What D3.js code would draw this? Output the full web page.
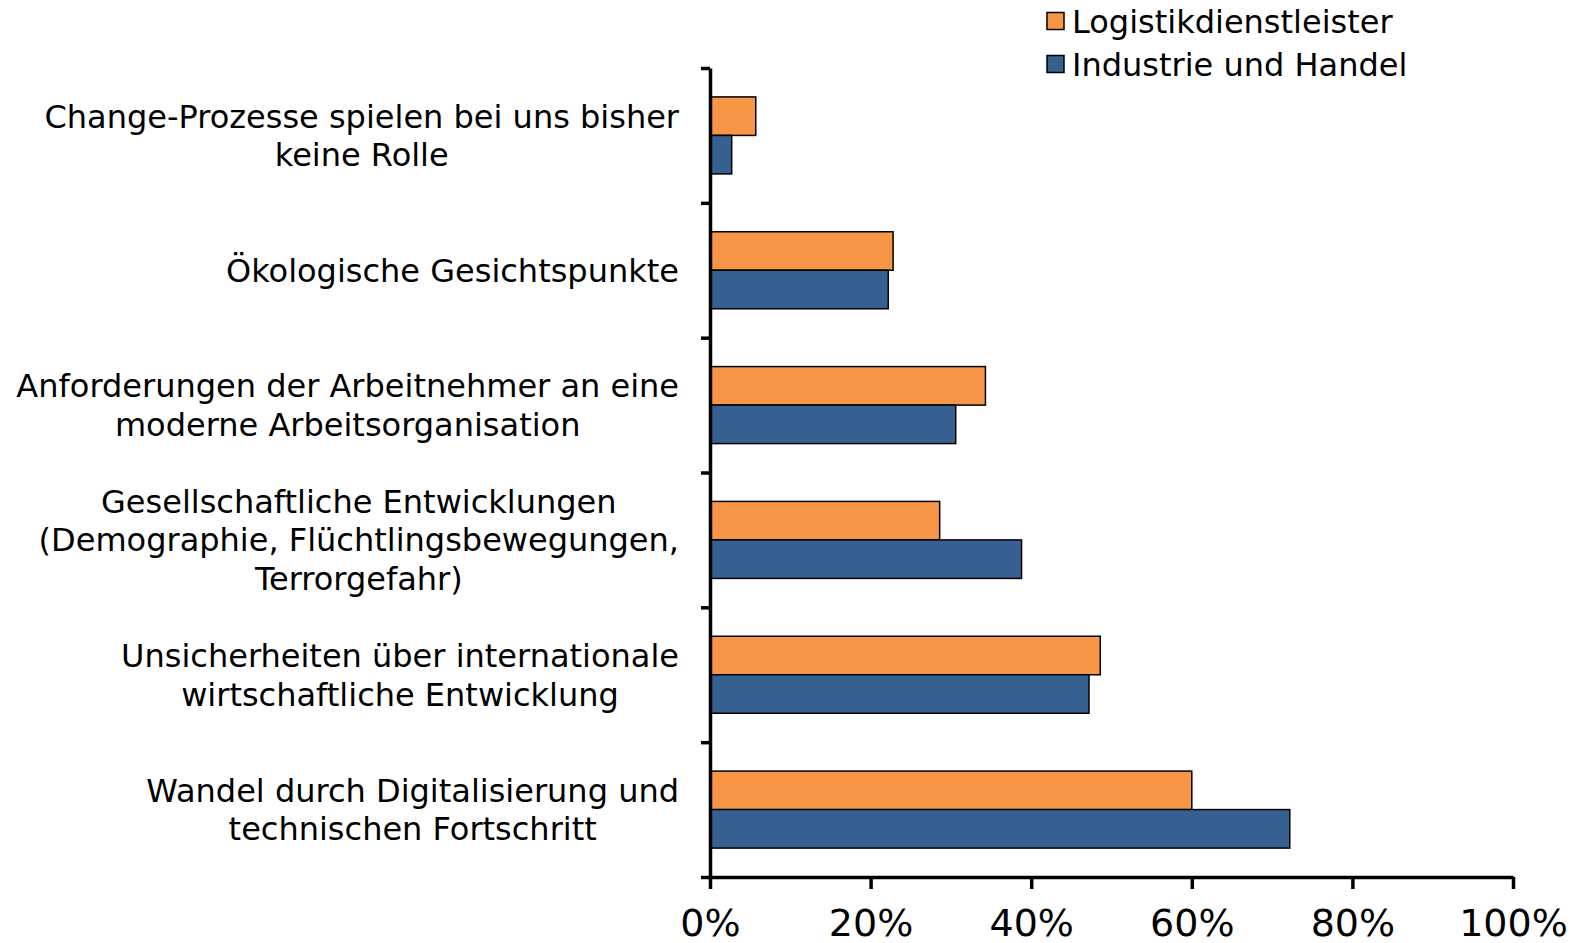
<!DOCTYPE html>
<html>
<head>
<meta charset="utf-8">
<script src="https://cdn.jsdelivr.net/npm/d3@7"></script>
<style>
  body { margin: 0; background: #fff; }
  svg { display: block; }
  .lbl { font-family: "DejaVu Sans", sans-serif; fill: #000; }
</style>
</head>
<body>
<div id="chart"></div>
<script>
// categories, top to bottom (each label split into its lines)
let categories = [
    ["Change-Prozesse spielen bei uns bisher", "keine Rolle"],
    ["Ökologische Gesichtspunkte"],
    ["Anforderungen der Arbeitnehmer an eine", "moderne Arbeitsorganisation"],
    ["Gesellschaftliche Entwicklungen", "(Demographie, Flüchtlingsbewegungen,", "Terrorgefahr)"],
    ["Unsicherheiten über internationale", "wirtschaftliche Entwicklung"],
    ["Wandel durch Digitalisierung und", "technischen Fortschritt"]
];
let seriesNames = ["Logistikdienstleister", "Industrie und Handel"];
let logistik = [5.7, 22.8, 34.3, 28.6, 48.6, 60.0];
let industrie = [2.7, 22.2, 30.6, 38.8, 47.2, 72.2];
let xTicks = [0, 20, 40, 60, 80, 100];
let colors = ["#F79646", "#366092"];

// size of plot
let width = 1574, height = 943;
let plot = {left: 710, right: 1513, top: 68, bottom: 877};

let svg = d3.select("#chart").append("svg")
    .attr("width", width)
    .attr("height", height);

let x = d3.scaleLinear()
    .domain([0, 100])
    .range([plot.left, plot.right]);

let y0 = d3.scaleBand()
    .domain(d3.range(categories.length))
    .range([plot.top, plot.bottom]);

let pad = (y0.bandwidth() - 77) / 2;
let y1 = d3.scaleBand()
    .domain(seriesNames)
    .range([pad, y0.bandwidth() - pad]);

// bars
let values = [logistik, industrie];
let groups = svg.selectAll(".group")
    .data(d3.range(categories.length))
    .enter()
    .append("g")
    .attr("class", "group")
    .attr("transform", d => "translate(0," + y0(d) + ")");

groups.selectAll("rect")
    .data(i => seriesNames.map((s, k) => ({s: s, k: k, v: values[k][i]})))
    .enter()
    .append("rect")
    .attr("x", x(0))
    .attr("y", d => y1(d.s))
    .attr("width", d => x(d.v) - x(0))
    .attr("height", y1.bandwidth())
    .style("fill", d => colors[d.k])
    .style("stroke", "#000")
    .style("stroke-width", 1.5);

// category labels: centred block, widest line ends at labelRight
let lineH = 38.5, labelRight = 679;
groups.each(function(i) {
    let lines = categories[i];
    let cy = y0.bandwidth() / 2;
    let t = d3.select(this).append("text")
        .attr("class", "lbl")
        .attr("text-anchor", "middle")
        .style("font-size", "32px");
    let spans = lines.map(function(line, j) {
        return t.append("tspan")
            .attr("y", cy + (j - (lines.length - 1) / 2) * lineH)
            .attr("dy", "0.36em")
            .text(line);
    });
    let maxW = d3.max(spans, s => s.node().getComputedTextLength());
    spans.forEach(s => s.attr("x", labelRight - maxW / 2));
});

// y axis with ticks at band edges
let yEdge = d3.scaleLinear()
    .domain([0, categories.length])
    .range([plot.top, plot.bottom]);

let yAxis = svg.append("g")
    .attr("transform", "translate(" + plot.left + ",0)")
    .call(d3.axisLeft(yEdge).ticks(categories.length).tickFormat("").tickSize(9).tickSizeOuter(0));

// x axis
let xAxis = svg.append("g")
    .attr("transform", "translate(0," + plot.bottom + ")")
    .call(d3.axisBottom(x).tickValues(xTicks).tickFormat(d => d + "%").tickSize(12).tickSizeOuter(0));

[xAxis, yAxis].forEach(function(a) {
    a.select(".domain").style("stroke", "#000").style("stroke-width", 3.5);
    a.selectAll(".tick line").style("stroke", "#000").style("stroke-width", 3.5);
});

xAxis.selectAll(".tick text")
    .attr("class", "lbl")
    .attr("y", 59)
    .attr("dy", "0")
    .style("font-size", "38px");

// legend
let legend = svg.append("g");
seriesNames.forEach(function(s, k) {
    let ly = 21 + k * 43;
    legend.append("rect")
        .attr("x", 1047)
        .attr("y", ly - 8.5)
        .attr("width", 17)
        .attr("height", 17)
        .style("fill", colors[k])
        .style("stroke", "#000")
        .style("stroke-width", 1.5);
    legend.append("text")
        .attr("class", "lbl")
        .attr("x", 1072)
        .attr("y", ly)
        .attr("dy", "0.36em")
        .style("font-size", "32px")
        .text(s);
});
</script>
</body>
</html>
